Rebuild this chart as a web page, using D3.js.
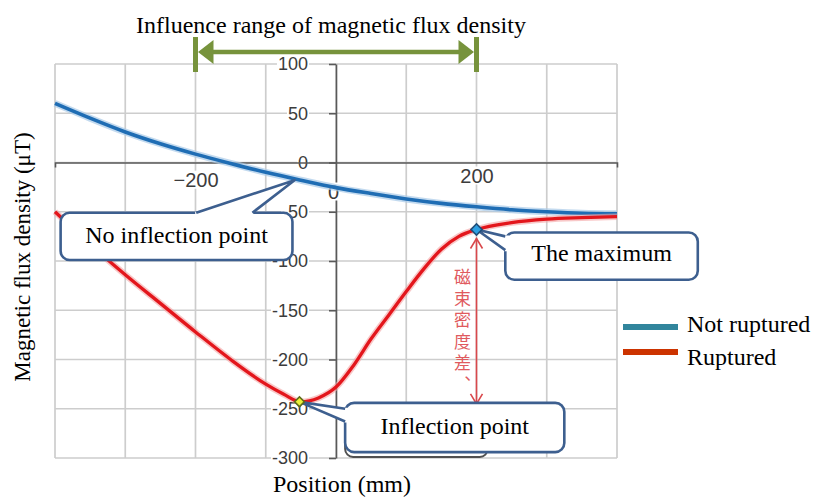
<!DOCTYPE html>
<html><head><meta charset="utf-8">
<script src="https://cdn.jsdelivr.net/npm/d3@7"></script>
<style>body{margin:0;background:#fff}svg{display:block}</style>
</head><body><svg id="c" width="817" height="498"></svg>
<script>
// ---------- data ----------
const positions = [-400,-350,-300,-250,-200,-150,-100,-50,0,50,100,150,200,250,300,350,400];
const notRuptured = [60,45,31,19,8.5,-1,-10,-18,-25.5,-31.5,-37,-41.5,-45,-48,-50,-51.5,-52];
const rupturedPositions = [-400,-350,-300,-250,-200,-150,-100,-75,-50,-25,0,25,50,75,100,125,150,175,200,250,300,350,400];
const ruptured = [-50,-83,-114,-143,-172,-200,-225,-235,-243,-239,-228,-206,-179,-155,-131,-108,-88,-75,-68,-61,-57.5,-56,-55];
const xTickValues = [-200,0,200];
const xGridValues = [-400,-300,-200,-100,0,100,200,300,400];
const yTickValues = [100,50,0,-50,-100,-150,-200,-250,-300];
const seriesNames = ["Not ruptured","Ruptured"];
const seriesColors = ["#31859c","#cc3300"];
const titleText = "Influence range of magnetic flux density";
const yTitle = "Magnetic flux density (\u03bcT)";
const xTitle = "Position (mm)";
const influenceRange = [-200,200];
const maxPoint = [200,-68];
const inflectionPoint = [-52,-243];
const noInflectionTip = [-59,-18];
const diffLabel = "磁束密度差、";
const diffBottom = -245;

// ---------- setup ----------
const svg = d3.select("#c");
const x = d3.scaleLinear().domain([-400,400]).range([55,617]);
const y = d3.scaleLinear().domain([-300,100]).range([458,64]);
const serif = "'Liberation Serif','Times New Roman',serif";
const sans = "'Liberation Sans',Arial,sans-serif";

// grid
const grid = svg.append("g");
grid.selectAll("line.v").data(xGridValues).join("line")
  .attr("x1",d=>x(d)).attr("x2",d=>x(d)).attr("y1",y(100)).attr("y2",y(-300))
  .attr("stroke","#cdcdcd").attr("stroke-width",1.7);
grid.selectAll("line.h").data(yTickValues).join("line")
  .attr("x1",x(-400)).attr("x2",x(400)).attr("y1",d=>y(d)).attr("y2",d=>y(d))
  .attr("stroke","#cdcdcd").attr("stroke-width",1.7);

// axes
const yAxis = svg.append("g").attr("transform",`translate(${x(0)},0)`)
  .call(d3.axisLeft(y).tickValues(yTickValues).tickSize(7).tickSizeOuter(0).tickPadding(21).tickFormat(d=>String(d)));
const xAxis = svg.append("g").attr("transform",`translate(0,${y(0)})`)
  .call(d3.axisBottom(x).tickValues(xTickValues).tickSize(0).tickSizeOuter(5).tickPadding(10)
    .tickFormat(d=>d<0?"\u2212"+Math.abs(d):String(d)));
[yAxis,xAxis].forEach(a=>{
  a.select(".domain").attr("stroke","#595959").attr("stroke-width",1.6);
  a.selectAll(".tick line").attr("stroke","#595959").attr("stroke-width",1.6);
});
yAxis.selectAll(".tick text").attr("font-family",sans).attr("font-size",18).attr("fill","#3c3c3c");
xAxis.selectAll(".tick text").attr("font-family",sans).attr("font-size",20).attr("fill","#3c3c3c");
xAxis.selectAll(".tick").filter(d=>d===0).select("text").attr("dy","1.3em").attr("dx","-3");
xAxis.selectAll(".tick").filter(d=>d===200).select("text").attr("dy","0.5em");
// white backgrounds behind tick labels
[yAxis,xAxis].forEach(a=>{
  a.selectAll(".tick").each(function(){
    const t = d3.select(this).select("text");
    const b = t.node().getBBox();
    d3.select(this).insert("rect","text").attr("x",b.x-1).attr("y",b.y+2).attr("width",b.width+2).attr("height",b.height-4).attr("fill","#fff");
  });
});

// curves
const line = d3.line().curve(d3.curveMonotoneX);
const bluePts = positions.map((p,i)=>[x(p),y(notRuptured[i])]);
const redPts = rupturedPositions.map((p,i)=>[x(p),y(ruptured[i])]);
svg.append("path").attr("d",line(bluePts)).attr("fill","none").attr("stroke","#a9cbe8").attr("stroke-width",7).attr("opacity",0.7);
svg.append("path").attr("d",line(bluePts)).attr("fill","none").attr("stroke","#1f6db4").attr("stroke-width",3.6);
svg.append("path").attr("d",line(redPts)).attr("fill","none").attr("stroke","#f3a3a3").attr("stroke-width",6.5).attr("opacity",0.6);
svg.append("path").attr("d",line(redPts)).attr("fill","none").attr("stroke","#e3161c").attr("stroke-width",3.3);

// red difference arrow
const ax = x(maxPoint[0]);
const aTop = y(maxPoint[1]) + 9, aBot = y(diffBottom);
const red2 = "#d9484c";
svg.append("line").attr("x1",ax).attr("x2",ax).attr("y1",aTop).attr("y2",aBot).attr("stroke",red2).attr("stroke-width",1.6);
svg.append("path").attr("d",`M${ax-6},${aTop+10}L${ax},${aTop}L${ax+6},${aTop+10}`).attr("fill","none").attr("stroke",red2).attr("stroke-width",1.6);
svg.append("path").attr("d",`M${ax-6},${aBot-10}L${ax},${aBot}L${ax+6},${aBot-10}`).attr("fill","none").attr("stroke",red2).attr("stroke-width",1.6);
svg.append("text").attr("x",ax-14).attr("y",aTop+30)
  .style("writing-mode","vertical-rl").attr("letter-spacing",4.5)
  .attr("font-family","'Noto Sans CJK JP',sans-serif")
  .attr("font-size",17).attr("fill","#e05a5e").text(diffLabel);

// callouts
const cStroke = "#3d5f8f";
function callout(x0,y0,x1,y1,base,tip,label,ty){
  const g = svg.append("g");
  g.append("rect").attr("x",x0).attr("y",y0).attr("width",x1-x0).attr("height",y1-y0)
    .attr("rx",9).attr("fill","#fff").attr("stroke",cStroke).attr("stroke-width",2.6);
  const [b1,b2] = base;
  g.append("path").attr("d",`M${b1[0]},${b1[1]}L${tip[0]},${tip[1]}L${b2[0]},${b2[1]}Z`).attr("fill","#fff");
  const inx = b1[1]===b2[1] ? 0 : 3, iny = b1[1]===b2[1] ? 3 : 0;
  g.append("path").attr("d",`M${b1[0]+inx},${b1[1]+iny}L${b2[0]+inx},${b2[1]+iny}L${b2[0]},${b2[1]}L${b1[0]},${b1[1]}Z`).attr("fill","#fff").attr("stroke","#fff").attr("stroke-width",2);
  g.append("path").attr("d",`M${b1[0]},${b1[1]}L${tip[0]},${tip[1]}L${b2[0]},${b2[1]}`)
    .attr("fill","none").attr("stroke",cStroke).attr("stroke-width",2.6).attr("stroke-linejoin","round");
  g.append("text").attr("x",(x0+x1)/2).attr("y",ty).attr("text-anchor","middle")
    .attr("font-family",serif).attr("font-size",24).attr("fill","#000").text(label);
}
// dark box behind inflection callout
svg.append("rect").attr("x",x(13)).attr("y",y(-258)).attr("width",x(216)-x(13)).attr("height",y(-300)-y(-258)-1)
  .attr("rx",8).attr("fill","#fff").attr("stroke","#505050").attr("stroke-width",2);

callout(x(-392),y(-51),x(-62),y(-99),
  [[x(-199),y(-51)],[x(-119),y(-51)]],[x(noInflectionTip[0]),y(noInflectionTip[1])],
  "No inflection point", y(-81.5));
callout(x(13),y(-244),x(325),y(-294),
  [[x(13),y(-250)],[x(13),y(-263)]],[x(inflectionPoint[0]),y(inflectionPoint[1])],
  "Inflection point", y(-276));
callout(x(241),y(-71),x(515),y(-119),
  [[x(241),y(-75)],[x(241),y(-89)]],[x(maxPoint[0]),y(maxPoint[1])],
  "The maximum", y(-100));

// diamonds
const diamond = d3.symbol().type(d3.symbolSquare);
svg.append("path").attr("d",diamond.size(62)()).attr("transform",`translate(${x(maxPoint[0])},${y(maxPoint[1])}) rotate(45)`)
  .attr("fill","#2e9fe2").attr("stroke","#1f4e79").attr("stroke-width",1.6);
svg.append("path").attr("d",diamond.size(48)()).attr("transform",`translate(${x(inflectionPoint[0])},${y(inflectionPoint[1])}) rotate(45)`)
  .attr("fill","#ecf23a").attr("stroke","#5e6b1a").attr("stroke-width",1.6);

// influence range arrow
const green = "#77933c";
const gy = 52;
const gl = x(influenceRange[0]), gr = x(influenceRange[1]);
svg.append("rect").attr("x",gl-2.5).attr("y",37).attr("width",5).attr("height",35).attr("fill",green);
svg.append("rect").attr("x",gr-2.5).attr("y",37).attr("width",5).attr("height",35).attr("fill",green);
svg.append("line").attr("x1",gl+12).attr("x2",gr-12).attr("y1",gy).attr("y2",gy).attr("stroke",green).attr("stroke-width",4.5);
svg.append("path").attr("d",`M${gl+2.5},${gy}L${gl+18},${gy-12}L${gl+18},${gy+12}Z`).attr("fill",green);
svg.append("path").attr("d",`M${gr-2.5},${gy}L${gr-18},${gy-12}L${gr-18},${gy+12}Z`).attr("fill",green);

// titles
svg.append("text").attr("x",331).attr("y",33).attr("text-anchor","middle")
  .attr("font-family",serif).attr("font-size",24).attr("fill","#000").text(titleText);
svg.append("text").attr("transform","translate(30,257) rotate(-90)").attr("text-anchor","middle")
  .attr("font-family",serif).attr("font-size",23).attr("fill","#000").text(yTitle);
svg.append("text").attr("x",342).attr("y",492).attr("text-anchor","middle")
  .attr("font-family",serif).attr("font-size",24).attr("fill","#000").text(xTitle);

// legend
const leg = svg.append("g");
seriesNames.forEach((n,i)=>{
  const ly = [327,352][i];
  leg.append("line").attr("x1",623).attr("x2",678).attr("y1",ly).attr("y2",ly).attr("stroke",seriesColors[i]).attr("stroke-width",6);
  leg.append("text").attr("x",687).attr("y",[332,365][i]).attr("font-family",serif).attr("font-size",24).attr("fill","#000").text(n);
});
</script></body></html>
